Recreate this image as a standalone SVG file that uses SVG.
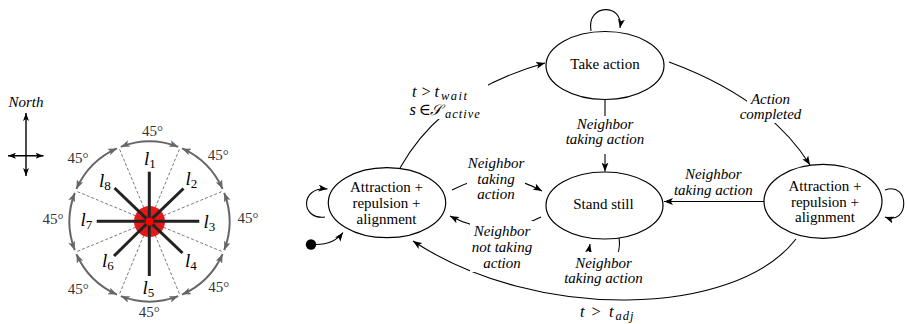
<svg xmlns="http://www.w3.org/2000/svg" width="907" height="324" viewBox="0 0 907 324" font-family="Liberation Serif, Times New Roman, DejaVu Serif, serif">
<style>
  .state { fill: #fff; stroke: #000; stroke-width: 1.2; }
  .stxt { font-size: 15px; text-anchor: middle; }
  .lbl { font-size: 15px; font-style: italic; text-anchor: middle; }
  .math { font-size: 16.5px; }
  .mi { font-style: italic; }
  .msub { font-style: italic; font-size: 12.5px; }
  .edge { fill: none; stroke: #000; stroke-width: 1.1; marker-end: url(#ah); }
  .bg { fill: #fff; stroke: none; }
  .dash { stroke: #7a7a7a; stroke-width: 1; stroke-dasharray: 3 2; }
  .ray { stroke: #222; stroke-width: 3; }
  .arc { fill: none; stroke: #666; stroke-width: 2; marker-start: url(#ga); marker-end: url(#ga); }
  .deg { font-size: 15px; text-anchor: middle; fill: #333; }
  .ll { font-size: 19px; font-style: italic; }
  .lsub { font-size: 13px; font-style: normal; }
  .comp { stroke: #000; stroke-width: 1.4; marker-start: url(#ca); marker-end: url(#ca); }
</style>
<defs>
  <marker id="ah" markerUnits="userSpaceOnUse" viewBox="0 0 9 7" markerWidth="9" markerHeight="7" refX="9" refY="3.5" orient="auto">
    <path d="M0,0 L9,3.5 L0,7 L2.2,3.5 z" fill="#000"/>
  </marker>
  <marker id="ga" markerUnits="userSpaceOnUse" viewBox="0 0 9 7" markerWidth="9" markerHeight="7" refX="9" refY="3.5" orient="auto-start-reverse">
    <path d="M0,0 L9,3.5 L0,7 L2.2,3.5 z" fill="#666"/>
  </marker>
  <marker id="ca" markerUnits="userSpaceOnUse" viewBox="0 0 8 6" markerWidth="8" markerHeight="6" refX="8" refY="3" orient="auto-start-reverse">
    <path d="M0,0 L8,3 L0,6 L2,3 z" fill="#000"/>
  </marker>
</defs>
<rect width="907" height="324" fill="#fff"/>

<!-- Compass -->
<g id="compass">
  <text x="26" y="107" font-size="15" font-style="italic" text-anchor="middle">North</text>
  <line class="comp" x1="26" y1="113" x2="26" y2="176"/>
  <line class="comp" x1="8" y1="155.7" x2="43.5" y2="155.7"/>
</g>

<!-- Sensor panel -->
<g id="sensor-panel">
  <g id="sector-dashes">
    <line class="dash" x1="149.5" y1="221.5" x2="223.4" y2="190.9"/>
    <line class="dash" x1="149.5" y1="221.5" x2="180.1" y2="147.6"/>
    <line class="dash" x1="149.5" y1="221.5" x2="118.9" y2="147.6"/>
    <line class="dash" x1="149.5" y1="221.5" x2="75.6" y2="190.9"/>
    <line class="dash" x1="149.5" y1="221.5" x2="75.6" y2="252.1"/>
    <line class="dash" x1="149.5" y1="221.5" x2="118.9" y2="295.4"/>
    <line class="dash" x1="149.5" y1="221.5" x2="180.1" y2="295.4"/>
    <line class="dash" x1="149.5" y1="221.5" x2="223.4" y2="252.1"/>
  </g>
  <circle cx="149.5" cy="221.5" r="15.5" fill="#e60000" opacity="0.9"/>
  <g id="rays">
    <line class="ray" x1="149.3" y1="221.5" x2="149.3" y2="171.7"/>
    <line class="ray" x1="149.3" y1="221.5" x2="149.3" y2="276"/>
    <line class="ray" x1="149.3" y1="221.2" x2="96.7" y2="221.2"/>
    <line class="ray" x1="149.3" y1="221.2" x2="199.3" y2="221.2"/>
    <line class="ray" x1="149.3" y1="221.3" x2="114.5" y2="188"/>
    <line class="ray" x1="149.3" y1="221.3" x2="183.5" y2="188.5"/>
    <line class="ray" x1="149.3" y1="221.3" x2="114" y2="256"/>
    <line class="ray" x1="149.3" y1="221.3" x2="182.5" y2="253"/>
  </g>
  <circle cx="149.5" cy="221.5" r="4" fill="#ff0000"/>
  <g id="sector-arcs">
    <path class="arc" d="M222.58,188.96 A80,80 0 0 0 182.04,148.42"/>
    <path class="arc" d="M178.17,146.81 A80,80 0 0 0 120.83,146.81"/>
    <path class="arc" d="M116.96,148.42 A80,80 0 0 0 76.42,188.96"/>
    <path class="arc" d="M74.81,192.83 A80,80 0 0 0 74.81,250.17"/>
    <path class="arc" d="M76.42,254.04 A80,80 0 0 0 116.96,294.58"/>
    <path class="arc" d="M120.83,296.19 A80,80 0 0 0 178.17,296.19"/>
    <path class="arc" d="M182.04,294.58 A80,80 0 0 0 222.58,254.04"/>
    <path class="arc" d="M224.19,250.17 A80,80 0 0 0 224.19,192.83"/>
  </g>
  <g id="angle-labels">
    <text class="deg" x="152.5" y="136">45°</text>
    <text class="deg" x="218.3" y="160">45°</text>
    <text class="deg" x="248" y="222.5">45°</text>
    <text class="deg" x="218.7" y="291.7">45°</text>
    <text class="deg" x="149.2" y="316.7">45°</text>
    <text class="deg" x="78.3" y="293.5">45°</text>
    <text class="deg" x="53" y="223.5">45°</text>
    <text class="deg" x="78" y="163">45°</text>
  </g>
  <g id="ray-labels">
    <text class="ll" x="144" y="165">l<tspan class="lsub" dy="3">1</tspan></text>
    <text class="ll" x="185.5" y="185">l<tspan class="lsub" dy="3">2</tspan></text>
    <text class="ll" x="203.5" y="227.5">l<tspan class="lsub" dy="3">3</tspan></text>
    <text class="ll" x="185" y="266.5">l<tspan class="lsub" dy="3">4</tspan></text>
    <text class="ll" x="142.5" y="294">l<tspan class="lsub" dy="3">5</tspan></text>
    <text class="ll" x="102" y="267">l<tspan class="lsub" dy="3">6</tspan></text>
    <text class="ll" x="80.5" y="225.5">l<tspan class="lsub" dy="3">7</tspan></text>
    <text class="ll" x="99" y="186.5">l<tspan class="lsub" dy="3">8</tspan></text>
  </g>
</g>

<!-- Connectors -->
<g id="connectors">
  <path id="e-init" class="edge" d="M316,244.5 Q334,244.5 343,232.5"/>
  <path id="e-left-loop" class="edge" d="M325,217 C300,220 300,186 327.5,189"/>
  <path id="e-wait" class="edge" d="M400,168 Q442.7,91.7 545,63"/>
  <path id="e-take-loop" class="edge" d="M591,31 C586,3 624,3 620,28"/>
  <path id="e-completed" class="edge" d="M669,62 Q768.5,98.6 810,165"/>
  <path id="e-take-stand" class="edge" d="M605,99.5 L605,171.5"/>
  <path id="e-left-stand" class="edge" d="M452,190 Q497,166 542,191"/>
  <path id="e-stand-left" class="edge" d="M541,217 Q496,240 450,216"/>
  <path id="e-right-stand" class="edge" d="M764,201.5 L664,201.5"/>
  <path id="e-right-loop" class="edge" d="M885,190 C910,181 910,226 885,217"/>
  <path id="e-stand-loop" class="edge" d="M619,238 C624,272 585,272 590,244"/>
  <path id="e-adj" class="edge" d="M796,239 C735,318 535,322 413,241"/>
</g>

<!-- Edge labels -->
<g id="edge-labels">
  <g id="l-wait">
    <rect class="bg" x="406" y="82" width="82" height="37"/>
    <text class="math" y="97"><tspan class="mi" x="412">t</tspan><tspan x="421.5">&gt;</tspan><tspan class="mi" x="434.5">t</tspan><tspan class="msub" x="441" dy="2.5" letter-spacing="1.5">wait</tspan></text>
    <text class="math" y="115"><tspan class="mi" x="409.5">s</tspan><tspan x="418.5">∈</tspan><tspan class="mi" x="429.5" font-size="15">𝒮</tspan><tspan class="msub" x="445" dy="2.5" letter-spacing="1">active</tspan></text>
  </g>
  <g id="l-completed">
    <rect class="bg" x="747" y="91" width="56" height="32"/>
    <text class="lbl" x="770.5" y="103.5">Action</text>
    <text class="lbl" x="770.5" y="118.5">completed</text>
  </g>
  <g id="l-take-stand">
    <rect class="bg" x="566" y="116" width="78" height="38"/>
    <text class="lbl" x="605" y="128.5">Neighbor</text>
    <text class="lbl" x="605" y="143.5">taking action</text>
  </g>
  <g id="l-left-stand">
    <rect class="bg" x="467" y="153" width="58" height="50"/>
    <text class="lbl" x="496" y="167.5">Neighbor</text>
    <text class="lbl" x="496" y="183.5">taking</text>
    <text class="lbl" x="496" y="199">action</text>
  </g>
  <g id="l-stand-left">
    <rect class="bg" x="470" y="221" width="63" height="51"/>
    <text class="lbl" x="502" y="236">Neighbor</text>
    <text class="lbl" x="502" y="252">not taking</text>
    <text class="lbl" x="502" y="268">action</text>
  </g>
  <g id="l-right-stand">
    <text class="lbl" x="713.3" y="179">Neighbor</text>
    <text class="lbl" x="713.3" y="195">taking action</text>
  </g>
  <g id="l-stand-loop">
    <rect class="bg" x="562" y="252" width="84" height="36"/>
    <text class="lbl" x="603.5" y="267.5">Neighbor</text>
    <text class="lbl" x="603.5" y="283">taking action</text>
  </g>
  <g id="l-adj">
    <text class="math" y="317"><tspan class="mi" x="580">t</tspan><tspan x="591.5">&gt;</tspan><tspan class="mi" x="609">t</tspan><tspan class="msub" x="615.5" dy="2.5" letter-spacing="1">adj</tspan></text>
  </g>
</g>

<!-- Nodes -->
<g id="node-initial">
  <circle cx="311" cy="244.5" r="5.2" fill="#000"/>
</g>
<g id="node-take-action">
  <ellipse class="state" cx="605" cy="65.5" rx="59" ry="34"/>
  <text class="stxt" x="605" y="68.5">Take action</text>
</g>
<g id="node-stand-still">
  <ellipse class="state" cx="604.5" cy="205.5" rx="58.5" ry="33.5"/>
  <text class="stxt" x="603.5" y="208.5">Stand still</text>
</g>
<g id="node-attraction-left">
  <ellipse class="state" cx="387" cy="202.7" rx="58.7" ry="35"/>
  <text class="stxt" x="386.5" y="191.5">Attraction +</text>
  <text class="stxt" x="386.5" y="207.5">repulsion +</text>
  <text class="stxt" x="386.5" y="223.5">alignment</text>
</g>
<g id="node-attraction-right">
  <ellipse class="state" cx="823" cy="201.3" rx="59" ry="37"/>
  <text class="stxt" x="825" y="190.5">Attraction +</text>
  <text class="stxt" x="825" y="206.5">repulsion +</text>
  <text class="stxt" x="825" y="222">alignment</text>
</g>
</svg>
